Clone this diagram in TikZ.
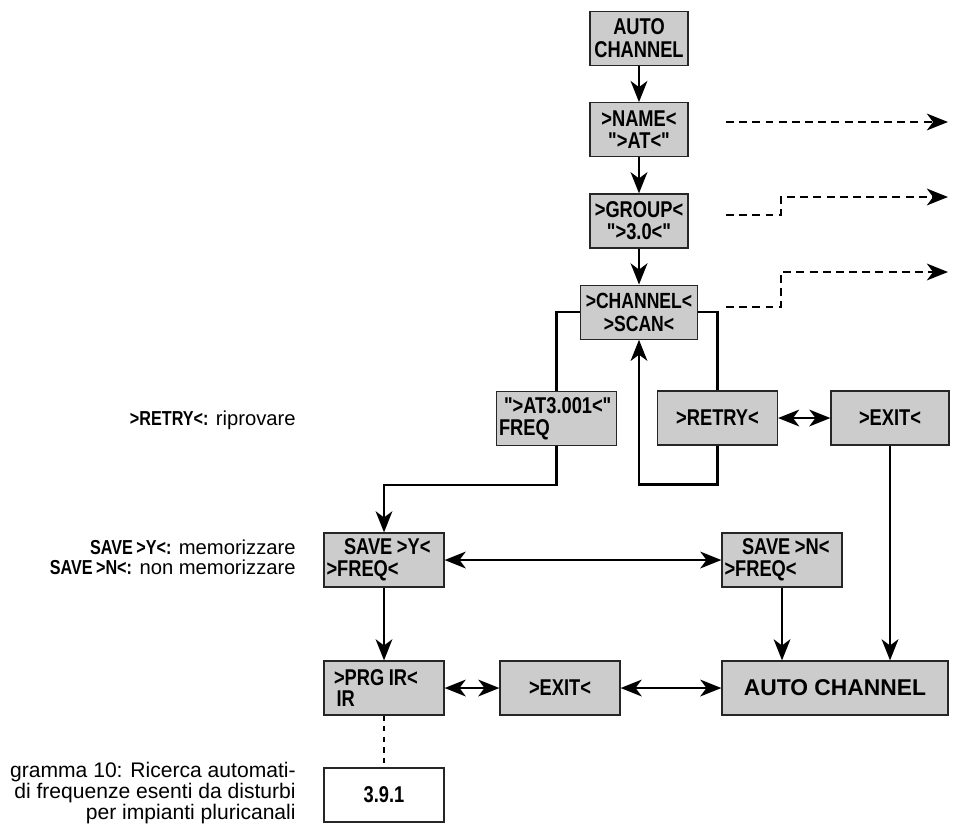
\documentclass[tikz,border=0pt]{standalone}
\usepackage{fontspec}
\setmainfont{Liberation Sans}
\newfontfamily\narrowfont[FakeStretch=0.8,WordSpace=0.75]{Liberation Sans}
\newcommand{\boxgap}{\hspace{2.6pt}}
\usetikzlibrary{arrows.meta,positioning}

\begin{document}
\begin{tikzpicture}[x=0.02cm,y=-0.02cm,node distance=7.2mm,
 box/.style={draw=black!85,fill=black!20,line width=0.7pt,inner sep=0pt,
  minimum width=24mm,minimum height=10.8mm,align=center,
  font=\narrowfont\bfseries\fontsize{13}{12.5}\selectfont},
 tip/.tip={Stealth[length=12pt,width=9.5pt,inset=3.5pt]},
 wire/.style={line width=1.5pt},
 link/.style={wire,-tip},
 both/.style={wire,tip-tip},
 hint/.style={line width=1.3pt,dash pattern=on 4.5pt off 3pt,-tip},
 note/.style={anchor=east,align=right,inner sep=0pt,font=\fontsize{11.5}{11.5}\selectfont}]
\useasboundingbox (0,0) rectangle (954,826);

% menu chain
\node[box,minimum width=19.6mm,font=\narrowfont\bfseries\fontsize{13}{13}\selectfont]
 (auto) at (639,38.5) {AUTO\\CHANNEL};
\node[box,minimum width=19.6mm,below=of auto] (name) {>NAME<\\">AT<"};
\node[box,minimum width=19.6mm,below=of name] (group) {>GROUP<\\">3.0<"};
\node[box,minimum width=23.4mm,below=of group,font=\narrowfont\bfseries\fontsize{12.5}{13}\selectfont]
 (scan) {>CHANNEL<\\>SCAN<};

\node[box,align=left,text width=23mm] (freq) at (556.5,418.5) {\hspace*{1mm}">AT3.001<"\\FREQ};
\node[box] (retry) at (717.5,418) {>RETRY<};
\node[box,minimum width=23.6mm] (exitA) at (890,418) {>EXIT<};

\node[box,align=left,text width=23mm] (savey) at (384,560) {\hspace*{3.5mm}SAVE\boxgap>Y<\\>FREQ<};
\node[box,align=left,text width=23mm] (saven) at (782,560) {\hspace*{3.5mm}SAVE\boxgap>N<\\>FREQ<};

\node[box,align=left,text width=23mm] (prg) at (384,688) {\hspace*{1.5mm}>PRG\boxgap IR<\\\hspace*{2mm}IR};
\node[box] (exitB) at (560,688) {>EXIT<};
\node[box,minimum width=45.2mm,font=\bfseries\fontsize{13}{14}\selectfont]
 (autoB) at (835,688) {AUTO CHANNEL};
\node[box,fill=white] (ref) at (384,795) {3.9.1};

% side notes
\node[note] (tretry) at (296,420) {{\narrowfont\bfseries >RETRY<:} riprovare};
\node[note] (tsave) at (296,557) {{\narrowfont\bfseries SAVE >Y<:} memorizzare\\{\narrowfont\bfseries SAVE >N<:} non memorizzare};
\node[note,font=\fontsize{12}{12}\selectfont] (cap) at (296,793)
 {gramma 10: Ricerca automati-\\di frequenze esenti da disturbi\\per impianti pluricanali};

% ends of the dashed exits
\coordinate (n1) at (726,122);
\coordinate (n2) at (948,122);
\coordinate (g1) at (726,215);
\coordinate (g2) at (948,197);
\coordinate (s1) at (726,307);
\coordinate (s2) at (948,272);

\draw[link] (auto) -- (name);
\draw[link] (name) -- (group);
\draw[link] (group) -- (scan);
\draw[hint] (n1) -- (n2);
\draw[hint] (g1) -- ++(55,0) |- (g2);
\draw[hint] (s1) -- ++(55,0) |- (s2);

\draw[wire] (scan.west) -| (freq.north);
\draw[wire] (scan.east) -| (retry.north);
\draw[both] (retry) -- (exitA);
\draw[link] (retry.south) -- ++(0,39) -| (scan.south);
\draw[link] (freq.south) -- ++(0,39) -| (savey.north);
\draw[both] (savey) -- (saven);
\draw[link] (savey) -- (prg);
\draw[link] (saven.south) -- (saven.south |- autoB.north);
\draw[link] (exitA.south) -- (exitA.south |- autoB.north);
\draw[both] (prg) -- (exitB);
\draw[both] (exitB) -- (autoB);
\draw[wire,dashed] (prg) -- (ref);
\end{tikzpicture}
\end{document}
